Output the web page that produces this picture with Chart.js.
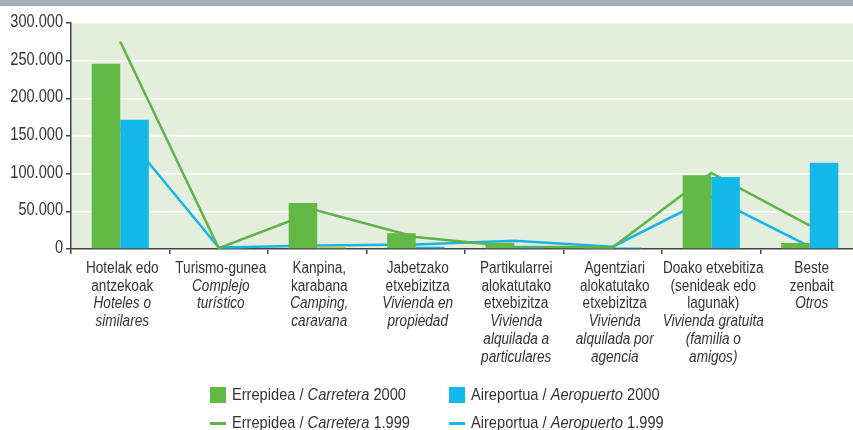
<!DOCTYPE html>
<html>
<head>
<meta charset="utf-8">
<script src="https://cdn.jsdelivr.net/npm/chart.js@4"></script>
<style>
    html, body { margin: 0; padding: 0; background: #fff; width: 853px; height: 430px; overflow: hidden; }
    #top-bar { position: absolute; left: 0; top: 0; width: 853px; height: 6px; background: #a7aeb6; z-index: 2; }
    #wrap { position: absolute; left: 0; top: 0; width: 862px; height: 430px; }
    #legend { position: absolute; left: 210px; top: 384px; display: grid; grid-template-columns: 239px 239px; row-gap: 6px;
              font: 17px "Liberation Sans", Arial, sans-serif; color: #333; }
    .item { display: flex; align-items: center; height: 22px; white-space: nowrap; }
    .swatch { width: 16px; height: 16px; margin-right: 6px; flex: none; }
    .swatch.line { height: 3px; }
    .txt { display: inline-block; transform: scaleX(0.86); transform-origin: left center; }
</style>
</head>
<body>
<div id="top-bar"></div>
<div id="wrap"><canvas id="chart" width="862" height="430"></canvas></div>
<div id="legend"></div>
<script>
// category labels: Basque lines (regular) and Spanish lines (italic)
const catEu = [
    ["Hotelak edo", "antzekoak"],
    ["Turismo-gunea"],
    ["Kanpina,", "karabana"],
    ["Jabetzako", "etxebizitza"],
    ["Partikularrei", "alokatutako", "etxebizitza"],
    ["Agentziari", "alokatutako", "etxebizitza"],
    ["Doako etxebitiza", "(senideak edo", "lagunak)"],
    ["Beste", "zenbait"]
];
const catEs = [
    ["Hoteles o", "similares"],
    ["Complejo", "turístico"],
    ["Camping,", "caravana"],
    ["Vivienda en", "propiedad"],
    ["Vivienda", "alquilada a", "particulares"],
    ["Vivienda", "alquilada por", "agencia"],
    ["Vivienda gratuita", "(familia o", "amigos)"],
    ["Otros"]
];

const road2000 = [246000, 1000, 61000, 21000, 8400, 1500, 98000, 8000];
const air2000 = [171500, 1500, 3000, 3000, 2000, 2000, 95500, 114500];
const road1999 = [275000, 1000, 51000, 16000, 3000, 2300, 101000, 31000];
const air1999 = [160000, 2000, 4500, 6000, 11000, 3000, 69000, 3000];

const yTicks = [0, 50000, 100000, 150000, 200000, 250000, 300000];

const modeEu = ["Errepidea", "Aireportua"];
const modeEs = ["Carretera", "Aeropuerto"];
const years = ["2000", "1.999"];

const green = '#62b946';
const blue = '#14b9e9';
const greenLine = '#5fb34a';
const blueLine = '#19b5e6';
const FONT = '"Liberation Sans", Arial, sans-serif';

function fmt(v) {
    return String(v).replace(/\B(?=(\d{3})+(?!\d))/g, '.');
}

// condensed look: squeeze text horizontally
function narrowText(ctx, t, x, y, sx) {
    ctx.save();
    ctx.scale(sx, 1);
    ctx.fillText(t, x / sx, y);
    ctx.restore();
}

const plotBg = {
    id: 'plotBg',
    beforeDraw(chart) {
        const a = chart.chartArea, ctx = chart.ctx;
        ctx.save();
        ctx.fillStyle = '#e4eedd';
        ctx.fillRect(a.left, a.top, a.right - a.left, a.bottom - a.top);
        ctx.restore();
    }
};

const axisLabels = {
    id: 'axisLabels',
    afterDraw(chart) {
        const ctx = chart.ctx, x = chart.scales.x, y = chart.scales.y;
        ctx.save();
        ctx.fillStyle = '#333';
        // y tick labels
        ctx.font = '18px ' + FONT;
        ctx.textAlign = 'right';
        ctx.textBaseline = 'middle';
        yTicks.forEach(v => narrowText(ctx, fmt(v), 63, y.getPixelForValue(v) - 1, 0.81));
        // category labels
        ctx.textAlign = 'center';
        ctx.textBaseline = 'alphabetic';
        catEu.forEach((eu, i) => {
            const cx = x.getPixelForValue(i) + 2;
            let ly = 273;
            ctx.font = '16px ' + FONT;
            eu.forEach(t => { narrowText(ctx, t, cx, ly, 0.85); ly += 17.7; });
            ctx.font = 'italic 16px ' + FONT;
            catEs[i].forEach(t => { narrowText(ctx, t, cx, ly, 0.85); ly += 17.7; });
        });
        ctx.restore();
    }
};

const chart = new Chart(document.getElementById('chart'), {
    type: 'bar',
    data: {
        labels: catEu.map(l => l.join(' ')),
        datasets: [
            { type: 'bar', label: 'road2000', data: road2000, backgroundColor: green, order: 1 },
            { type: 'bar', label: 'air2000', data: air2000, order: 1,
              backgroundColor: c => c.dataIndex === 2 ? '#b9cf3d' : blue },
            { type: 'line', label: 'road1999', data: road1999, borderColor: greenLine, borderWidth: 2.5,
              pointRadius: 0, tension: 0, order: 2 },
            { type: 'line', label: 'air1999', data: air1999, borderColor: blueLine, borderWidth: 2.5,
              pointRadius: 0, tension: 0, order: 2 }
        ]
    },
    options: {
        responsive: false,
        animation: false,
        devicePixelRatio: 1,
        layout: { padding: { top: 23, right: 3, left: 0, bottom: 0 } },
        datasets: { bar: { categoryPercentage: 0.58, barPercentage: 1 } },
        plugins: { legend: { display: false }, tooltip: { enabled: false } },
        scales: {
            x: {
                offset: true,
                grid: { drawOnChartArea: false, offset: true, tickLength: 5, tickColor: '#444', lineWidth: 1.5 },
                border: { color: '#444', width: 1.5 },
                ticks: { display: false },
                afterFit: s => { s.height = 181; }
            },
            y: {
                min: 0,
                max: 300000,
                afterBuildTicks: s => { s.ticks = yTicks.map(v => ({ value: v })); },
                grid: { color: '#ffffff', lineWidth: 1.5, tickColor: '#444', tickLength: 5 },
                border: { color: '#444', width: 1.5 },
                ticks: { display: false },
                afterFit: s => { s.width = 71; }
            }
        }
    },
    plugins: [plotBg, axisLabels]
});

// legend: 2000 bars on first row, 1.999 lines on second row
const legend = document.getElementById('legend');
chart.data.datasets.forEach((ds, i) => {
    const m = i % 2, yr = i < 2 ? 0 : 1;
    const item = document.createElement('div');
    item.className = 'item';
    const sw = document.createElement('span');
    sw.className = 'swatch' + (ds.type === 'line' ? ' line' : '');
    sw.style.background = ds.type === 'line' ? ds.borderColor : (m === 0 ? green : blue);
    item.appendChild(sw);
    const txt = document.createElement('span');
    txt.className = 'txt';
    txt.innerHTML = modeEu[m] + ' / <i>' + modeEs[m] + '</i> ' + years[yr];
    item.appendChild(txt);
    legend.appendChild(item);
});
</script>
</body>
</html>
